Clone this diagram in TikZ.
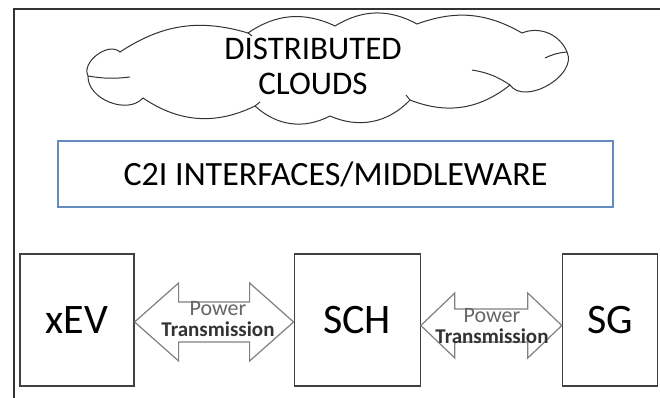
\documentclass[tikz,border=0pt]{standalone}
\usepackage{fontspec}
\setmainfont{Carlito}
\usepackage{xcolor}
\usetikzlibrary{positioning, calc}
\definecolor{mwblue}{RGB}{100,140,190}
\tikzstyle{unit} = [draw=black!75, line width=1.2pt, minimum height=132pt, inner sep=0pt, font=\fontsize{42}{46}\selectfont]
\tikzstyle{power} = [draw=black!50, line width=1.2pt, fill=white, line join=miter]
\tikzstyle{powertext} = [align=center, text=black!80, font=\bfseries\fontsize{21}{21}\selectfont]
\tikzstyle{cloudline} = [draw=black!80, line width=1pt]

\begin{document}
\begin{tikzpicture}[x=1pt, y=-1pt]
  \useasboundingbox (0,0) rectangle (660,398);
  \draw[line width=2pt, black!80] (14,398) -- (14,9) -- (660,9);

  % cloud outline, puff by puff
  \draw[cloudline, fill=white] (120,52) to[bend left=25] (248,33) to[bend left=30] (335,26)
    to[bend left=30] (417,24) to[bend left=25] (522,33) to[bend left=45] (567,52)
    to[bend left=85] (510,85) to[bend left=30] (410,100) to[bend left=35] (330,116)
    to[bend left=35] (255,106) to[bend left=30] (143,98) to[bend left=70] (88,76)
    to[bend left=80] (120,52) -- cycle;
  \draw[cloudline] (88,76) to[bend right=8] (130,77);
  \draw[cloudline] (510,85) to[bend right=12] (472,70);
  \draw[cloudline] (567,52) to[bend right=10] (545,58);
  \draw[cloudline] (248,33) -- (252,36);
  \draw[cloudline] (410,100) -- (406,95);
  \draw[cloudline] (255,106) -- (260,102);
  \node[align=center, font=\fontsize{33}{35}\selectfont] (cloudtext) at (313,66) {DISTRIBUTED\\CLOUDS};

  \node[draw=mwblue, line width=1.2pt, minimum width=555pt, minimum height=66pt, font=\fontsize{34}{36}\selectfont] (mw) at (335.5,174) {C2I INTERFACES/MIDDLEWARE};

  \node[unit, minimum width=114pt] (xev) at (77,320) {xEV};
  \node[unit, minimum width=126pt, right=159pt of xev] (sch) {SCH};
  \node[unit, minimum width=95pt, right=141pt of sch] (sg) {SG};

  % fat double arrows between the units
  \coordinate (a1) at ($(xev.east)+(0,2)$);
  \coordinate (b1) at ($(sch.west)+(0,2)$);
  \draw[power] (a1) -- ++(44,-39) -- ++(0,19) -- ($(b1)+(-44,-20)$) -- ++(0,-19) -- (b1)
    -- ++(-44,39) -- ++(0,-19) -- ($(a1)+(44,20)$) -- ++(0,19) -- cycle;
  \coordinate (a2) at ($(sch.east)+(0,5.5)$);
  \coordinate (b2) at ($(sg.west)+(0,5.5)$);
  \draw[power] (a2) -- ++(34,-32.5) -- ++(0,16) -- ($(b2)+(-34,-16.5)$) -- ++(0,-16) -- (b2)
    -- ++(-34,32.5) -- ++(0,-16) -- ($(a2)+(34,16.5)$) -- ++(0,16) -- cycle;

  \node[powertext] (lbl1) at (218,319) {{\mdseries\color{black!60}\fontsize{22}{21}\selectfont Power}\\Transmission};
  \node[powertext] (lbl2) at (492,326) {{\mdseries\color{black!60}\fontsize{22}{21}\selectfont Power}\\Transmission};
\end{tikzpicture}
\end{document}
